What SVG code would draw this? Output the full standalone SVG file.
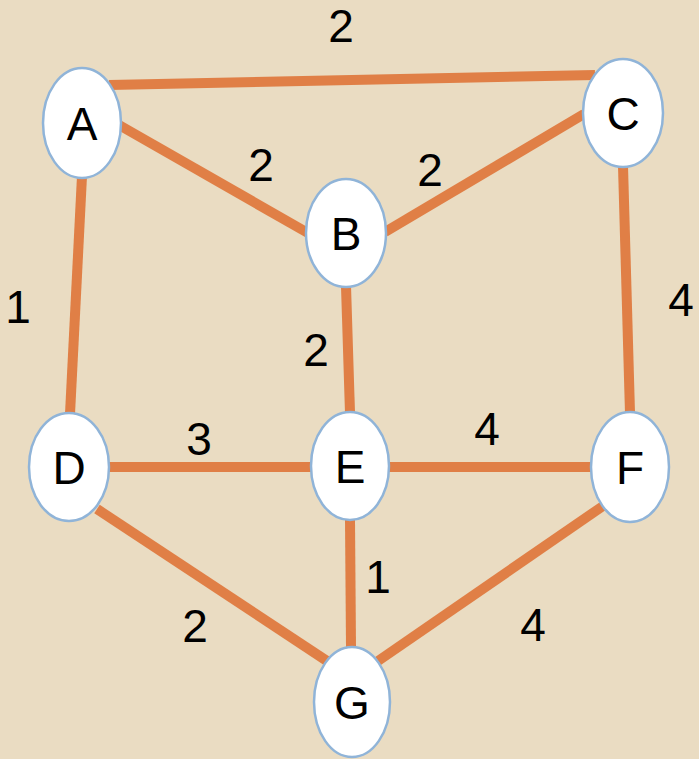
<svg xmlns="http://www.w3.org/2000/svg" width="699" height="759" viewBox="0 0 699 759">
<style>
.e{stroke:#E07F46;stroke-width:10;fill:none}
.n ellipse{fill:#fff;stroke:#90B4D8;stroke-width:2.5}
text{font-family:"Liberation Sans",Arial,sans-serif;font-size:46px;fill:#000;text-anchor:middle}
</style>
<rect width="699" height="759" fill="#EADCC2"/>
<g id="edges">
<line class="e" x1="109" y1="85" x2="595" y2="75"/>
<line class="e" x1="119" y1="125" x2="308" y2="233"/>
<line class="e" x1="385" y1="232" x2="584" y2="114"/>
<line class="e" x1="82" y1="176" x2="70" y2="414"/>
<line class="e" x1="346" y1="286" x2="350" y2="413"/>
<line class="e" x1="623" y1="166" x2="630" y2="413"/>
<line class="e" x1="109" y1="467" x2="311" y2="467"/>
<line class="e" x1="389" y1="467" x2="591" y2="467"/>
<line class="e" x1="97" y1="509" x2="327" y2="661"/>
<line class="e" x1="350" y1="520" x2="351" y2="648"/>
<line class="e" x1="603" y1="506" x2="378" y2="661"/>
</g>
<g id="edge-labels">
<text x="341" y="42">2</text>
<text x="261" y="181">2</text>
<text x="430" y="186">2</text>
<text x="18" y="323">1</text>
<text x="681" y="316">4</text>
<text x="316" y="366">2</text>
<text x="199" y="455">3</text>
<text x="487" y="445">4</text>
<text x="378" y="593">1</text>
<text x="195" y="642">2</text>
<text x="533" y="641">4</text>
</g>
<g id="A" class="n"><ellipse cx="82" cy="123" rx="39" ry="55"/><text x="82" y="140">A</text></g>
<g id="C" class="n"><ellipse cx="623" cy="113" rx="40" ry="54"/><text x="623" y="130">C</text></g>
<g id="B" class="n"><ellipse cx="346" cy="233" rx="40" ry="54"/><text x="346" y="250">B</text></g>
<g id="D" class="n"><ellipse cx="69" cy="467" rx="40" ry="54"/><text x="69" y="484">D</text></g>
<g id="E" class="n"><ellipse cx="350" cy="466" rx="39" ry="54"/><text x="350" y="483">E</text></g>
<g id="F" class="n"><ellipse cx="630" cy="467" rx="39" ry="55"/><text x="630" y="484">F</text></g>
<g id="G" class="n"><ellipse cx="352" cy="702" rx="38" ry="55"/><text x="352" y="719">G</text></g>
</svg>
